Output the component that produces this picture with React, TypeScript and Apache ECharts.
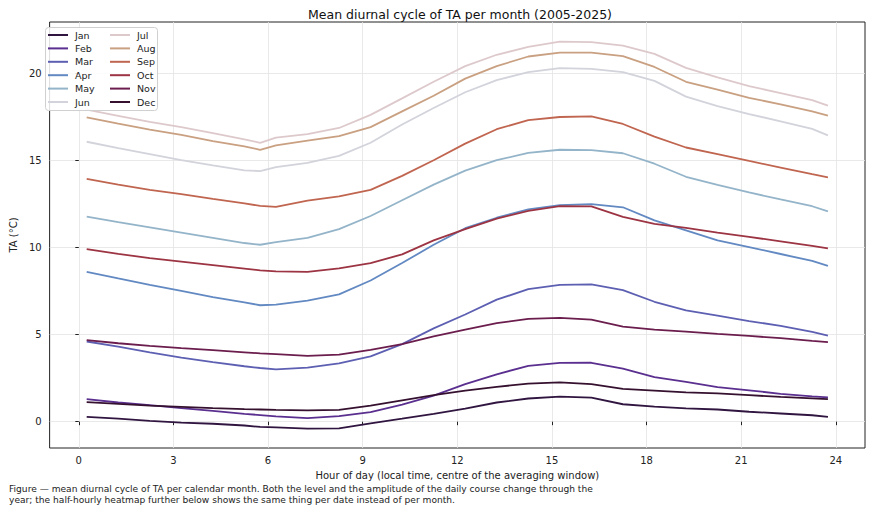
import { useEffect, useRef } from 'react';
import * as echarts from 'echarts';

// hour of day (centre of the averaging window)
const HOURS = [
  0.25, 1.25, 2.25, 3.25, 4.25, 5.25, 5.75, 6.25, 7.25, 8.25, 9.25, 10.25, 11.25,
  12.25, 13.25, 14.25, 15.25, 16.25, 17.25, 18.25, 19.25, 20.25, 21.25, 22.25, 23.25, 23.75
];

const MONTHS = ['Jan', 'Feb', 'Mar', 'Apr', 'May', 'Jun', 'Jul', 'Aug', 'Sep', 'Oct', 'Nov', 'Dec'];

// mean TA (°C) per month
const JAN = [0.28, 0.18, 0.05, -0.05, -0.12, -0.22, -0.3, -0.33, -0.4, -0.38, -0.1, 0.17, 0.45, 0.75, 1.1, 1.33, 1.44, 1.38, 1.0, 0.86, 0.76, 0.7, 0.57, 0.47, 0.37, 0.27];
const FEB = [1.3, 1.1, 0.95, 0.78, 0.62, 0.45, 0.38, 0.3, 0.2, 0.32, 0.55, 0.98, 1.5, 2.15, 2.72, 3.2, 3.37, 3.38, 3.05, 2.55, 2.28, 1.98, 1.8, 1.6, 1.45, 1.4];
const MAR = [4.6, 4.3, 3.98, 3.68, 3.42, 3.18, 3.08, 3.0, 3.1, 3.35, 3.75, 4.45, 5.35, 6.15, 7.0, 7.6, 7.85, 7.88, 7.55, 6.88, 6.38, 6.08, 5.77, 5.5, 5.15, 4.94];
const APR = [8.6, 8.22, 7.85, 7.5, 7.15, 6.85, 6.68, 6.72, 6.95, 7.3, 8.1, 9.1, 10.15, 11.1, 11.7, 12.18, 12.42, 12.48, 12.3, 11.55, 10.98, 10.4, 10.02, 9.62, 9.22, 8.94];
const MAY = [11.76, 11.45, 11.15, 10.85, 10.55, 10.25, 10.15, 10.3, 10.55, 11.05, 11.8, 12.7, 13.6, 14.4, 15.0, 15.42, 15.6, 15.58, 15.4, 14.8, 14.05, 13.58, 13.15, 12.75, 12.36, 12.06];
const JUN = [16.06, 15.7, 15.35, 15.0, 14.7, 14.42, 14.38, 14.6, 14.85, 15.25, 16.0, 17.05, 18.0, 18.9, 19.6, 20.05, 20.28, 20.24, 20.05, 19.55, 18.65, 18.1, 17.65, 17.23, 16.8, 16.43];
const JUL = [17.9, 17.55, 17.2, 16.9, 16.55, 16.2, 16.0, 16.3, 16.5, 16.85, 17.6, 18.55, 19.5, 20.4, 21.05, 21.5, 21.8, 21.78, 21.57, 21.1, 20.3, 19.75, 19.25, 18.85, 18.45, 18.13];
const AUG = [17.46, 17.1, 16.75, 16.45, 16.1, 15.8, 15.6, 15.85, 16.12, 16.38, 16.9, 17.8, 18.7, 19.68, 20.4, 20.95, 21.17, 21.17, 20.97, 20.35, 19.5, 19.05, 18.58, 18.2, 17.8, 17.56];
const SEP = [13.93, 13.6, 13.3, 13.05, 12.78, 12.52, 12.38, 12.32, 12.68, 12.92, 13.3, 14.1, 15.0, 15.95, 16.78, 17.3, 17.48, 17.52, 17.08, 16.35, 15.73, 15.35, 14.96, 14.58, 14.2, 14.02];
const OCT = [9.9, 9.63, 9.38, 9.18, 8.98, 8.78, 8.68, 8.62, 8.6, 8.8, 9.1, 9.6, 10.4, 11.05, 11.65, 12.1, 12.37, 12.35, 11.75, 11.35, 11.12, 10.85, 10.6, 10.35, 10.08, 9.94];
const NOV = [4.68, 4.5, 4.35, 4.22, 4.1, 3.98, 3.92, 3.88, 3.78, 3.85, 4.12, 4.45, 4.9, 5.28, 5.65, 5.9, 5.96, 5.85, 5.45, 5.28, 5.17, 5.04, 4.92, 4.79, 4.63, 4.56];
const DEC = [1.12, 1.02, 0.92, 0.85, 0.78, 0.72, 0.7, 0.68, 0.65, 0.68, 0.92, 1.22, 1.52, 1.78, 2.0, 2.18, 2.25, 2.15, 1.88, 1.78, 1.68, 1.62, 1.52, 1.42, 1.34, 1.29];

const VALUES = [JAN, FEB, MAR, APR, MAY, JUN, JUL, AUG, SEP, OCT, NOV, DEC];

const X_TICKS = [0, 3, 6, 9, 12, 15, 18, 21, 24];
const Y_TICKS = [0, 5, 10, 15, 20];

// twilight_shifted-like palette
const COLORS = [
  '#301540', '#5a2f8f', '#5d5fb2', '#6289c2', '#94b4c9', '#d2d3db',
  '#ddc9cc', '#c9a081', '#c0654f', '#9c3443', '#6b1d4d', '#35112f'
];

const FONT = "'DejaVu Sans', sans-serif";

const CAPTION =
  'Figure — mean diurnal cycle of TA per calendar month. Both the level and the amplitude of the daily course change through the\n' +
  'year; the half-hourly heatmap further below shows the same thing per date instead of per month.';

const App: React.FC = () => {
  const chartRef = useRef<HTMLDivElement>(null);

  useEffect(() => {
    if (!chartRef.current) return;
    const chart = echarts.init(chartRef.current, undefined, { renderer: 'svg' });

    const series = MONTHS.map((name, i) => ({
      name,
      type: 'line',
      data: HOURS.map((h, k) => [h, VALUES[i][k]]),
      showSymbol: false,
      symbol: 'none',
      lineStyle: { width: 1.8, color: COLORS[i] },
      itemStyle: { color: COLORS[i] },
      z: 2
    }));

    const legendBase = {
      orient: 'vertical',
      top: 29,
      padding: 0,
      icon: 'rect',
      itemWidth: 20,
      itemHeight: 2,
      itemGap: 1.4,
      z: 5,
      textStyle: { fontFamily: FONT, fontSize: 9.5, color: '#222', lineHeight: 12, padding: [0, 0, 0, 2] }
    };

    chart.setOption({
      animation: false,
      backgroundColor: '#fff',
      title: {
        text: 'Mean diurnal cycle of TA per month (2005-2025)',
        left: 455,
        textAlign: 'center',
        top: 3,
        textStyle: { fontFamily: FONT, fontSize: 12.5, fontWeight: 'normal', color: '#111' }
      },
      legend: [
        { ...legendBase, left: 48, data: MONTHS.slice(0, 6) },
        { ...legendBase, left: 110, data: MONTHS.slice(6) }
      ],
      grid: {
        left: 45,
        right: 7,
        top: 22,
        bottom: 64,
        show: true,
        borderColor: '#222',
        borderWidth: 1,
        backgroundColor: 'transparent'
      },
      xAxis: {
        type: 'value',
        min: -0.925,
        max: 24.925,
        name: 'Hour of day (local time, centre of the averaging window)',
        nameLocation: 'middle',
        nameGap: 21,
        nameTextStyle: { fontFamily: FONT, fontSize: 10, color: '#222' },
        axisLine: { show: false },
        axisTick: { show: true, length: 3.5, lineStyle: { color: '#222' }, customValues: X_TICKS },
        axisLabel: { fontFamily: FONT, fontSize: 10, color: '#222', margin: 7.5, customValues: X_TICKS },
        splitLine: { show: true, lineStyle: { color: '#e3e3e3', width: 0.8 } }
      },
      yAxis: {
        type: 'value',
        min: -1.51,
        max: 22.93,
        name: 'TA (°C)',
        nameLocation: 'middle',
        nameRotate: 90,
        nameGap: 30,
        nameTextStyle: { fontFamily: FONT, fontSize: 10, color: '#222' },
        axisLine: { show: false },
        axisTick: { show: true, length: 3.5, lineStyle: { color: '#222' }, customValues: Y_TICKS },
        axisLabel: { fontFamily: FONT, fontSize: 10, color: '#222', margin: 8, customValues: Y_TICKS },
        splitLine: { show: true, lineStyle: { color: '#e3e3e3', width: 0.8 } }
      },
      graphic: [
        {
          type: 'rect',
          z: 4,
          shape: { x: 45.5, y: 27.5, width: 112, height: 83, r: 3 },
          style: { fill: 'rgba(255,255,255,0.85)', stroke: '#d0d0d0', lineWidth: 1 }
        },
        {
          type: 'text',
          left: 9,
          top: 484,
          style: { text: CAPTION, fontFamily: FONT, fontSize: 9.1, lineHeight: 10.5, fill: '#222' }
        }
      ],
      series
    });

    return () => {
      chart.dispose();
    };
  }, []);

  return (
    <div
      ref={chartRef}
      style={{ position: 'fixed', left: 0, top: 0, width: '872px', height: '512px' }}
    />
  );
};

export default App;
